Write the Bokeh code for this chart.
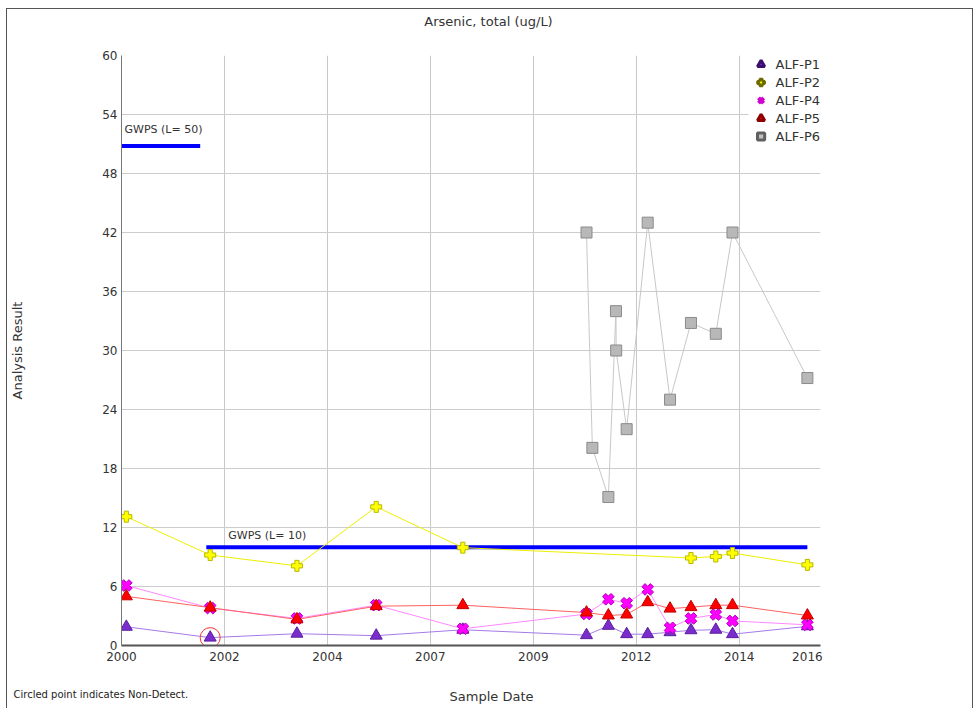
from datetime import datetime
import math
from bokeh.plotting import figure
from bokeh.models import (Range1d, FixedTicker, DatetimeTickFormatter, Label,
                          Legend, LegendItem, ColumnDataSource)
from bokeh.embed import file_html
from bokeh.resources import INLINE
from bokeh.core.properties import value

# ---------------- data ----------------
title = "Arsenic, total (ug/L)"
y_label = "Analysis Result"
x_label = "Sample Date"
note = "Circled point indicates Non-Detect."

p1_dates = ["2000-02-12", "2002-02-10", "2004-03-05", "2006-01-23", "2008-02-15",
            "2011-01-25", "2011-08-03", "2012-01-09", "2012-07-10", "2013-01-20",
            "2013-07-21", "2014-02-22", "2014-07-17", "2016-04-28"]
p1_values = [1.9, 0.8, 1.2, 1.0, 1.6, 1.05, 2.0, 1.15, 1.15, 1.35, 1.55, 1.6, 1.15, 1.95]
p1_nondetect = [False, True, False, False, False, False, False, False, False, False,
                False, False, False, False]

p2_dates = ["2000-02-12", "2002-02-10", "2004-03-05", "2006-01-23", "2008-02-15",
            "2013-07-21", "2014-02-22", "2014-07-17", "2016-04-28"]
p2_values = [13.1, 9.2, 8.1, 14.1, 9.95, 8.9, 9.05, 9.4, 8.2]

p4_dates = ["2000-02-12", "2002-02-10", "2004-03-05", "2006-01-23", "2008-02-15",
            "2011-01-25", "2011-08-03", "2012-01-09", "2012-07-10", "2013-01-20",
            "2013-07-21", "2014-02-22", "2014-07-17", "2016-04-28"]
p4_values = [6.1, 3.8, 2.75, 4.1, 1.7, 3.2, 4.7, 4.3, 5.7, 1.8, 2.75, 3.15, 2.5, 2.1]

p5_dates = ["2000-02-12", "2002-02-10", "2004-03-05", "2006-01-23", "2008-02-15",
            "2011-01-25", "2011-08-03", "2012-01-09", "2012-07-10", "2013-01-20",
            "2013-07-21", "2014-02-22", "2014-07-17", "2016-04-28"]
p5_values = [5.0, 3.85, 2.65, 4.0, 4.1, 3.35, 3.05, 3.15, 4.4, 3.75, 3.9, 4.1, 4.1, 3.05]

p6_dates = ["2011-01-25", "2011-03-17", "2011-08-03", "2011-10-08", "2011-10-10",
            "2012-01-09", "2012-07-10", "2013-01-20", "2013-07-21", "2014-02-22",
            "2014-07-17", "2016-04-28"]
p6_values = [42.0, 20.1, 15.1, 34.0, 30.0, 22.0, 43.0, 25.0, 32.8, 31.7, 42.0, 27.2]

gwps_start = ["2000-01-01", "2002-01-07"]
gwps_end = ["2001-11-15", "2016-04-28"]
gwps_level = [50.8, 10.0]
gwps_text = ["GWPS (L= 50)", "GWPS (L= 10)"]

x_start = "2000-01-01"
x_end = "2016-08-20"
tick_step_years = 2.45
y_min, y_max = 0, 60
y_ticks = [0, 6, 12, 18, 24, 30, 36, 42, 48, 54, 60]

# ---------------- helpers ----------------
def d(s):
    return datetime.strptime(s, "%Y-%m-%d")

EPOCH = datetime(1970, 1, 1)
def ms(dt):
    return (dt - EPOCH).total_seconds() * 1000.0

NAN = float("nan")
FONT = "DejaVu Sans"
TXT = "#333333"

# layout (figure pixels)
W, H = 967, 700
BL, BR, BT, BB = 114, 154, 46, 64
frame_h = H - BT - BB

def y_at(px_from_top):
    """data y for a pixel row of the figure (for texts outside the plot area)"""
    return y_min + (y_max - y_min) * (H - BB - px_from_top) / frame_h

p = figure(width=W, height=H, output_backend="svg", toolbar_location=None,
           x_axis_type="datetime",
           x_range=Range1d(d(x_start), d(x_end)), y_range=Range1d(y_min, y_max),
           min_border_left=BL, min_border_right=BR, min_border_top=BT,
           min_border_bottom=BB)
p.styles = {"margin-left": "6px", "margin-top": "8px",
            "border-left": "1px solid #555", "border-top": "1px solid #555",
            "border-right": "1px solid #555"}
p.outline_line_color = None
p.background_fill_color = "white"

# x ticks: evenly spaced interior ticks + last sample date label
t0 = ms(d(x_start))
step = tick_step_years * 365.25 * 86400000.0
interior = [t0 + k * step for k in range(1, 7)]
all_dates = p1_dates + p2_dates + p4_dates + p5_dates + p6_dates
last = ms(max(d(s) for s in all_dates))
p.xaxis.ticker = FixedTicker(ticks=[t0] + interior + [last])
p.xgrid.ticker = FixedTicker(ticks=interior)
fmt = "%Y"
p.xaxis.formatter = DatetimeTickFormatter(years=fmt, months=fmt, days=fmt, hours=fmt,
                                          minutes=fmt, hourmin=fmt, seconds=fmt,
                                          minsec=fmt, milliseconds=fmt,
                                          microseconds=fmt)
p.yaxis.ticker = FixedTicker(ticks=y_ticks)

for ax in (p.xaxis[0], p.yaxis[0]):
    ax.major_tick_out = 0
    ax.major_tick_in = 0
    ax.minor_tick_out = 0
    ax.minor_tick_in = 0
    ax.major_label_text_font = FONT
    ax.major_label_text_font_size = "12px"
    ax.major_label_text_color = TXT

p.xaxis.axis_line_color = "#555555"
p.xaxis.axis_line_width = 2
p.xaxis.major_label_standoff = 6
p.yaxis.axis_line_color = "#777777"
p.yaxis.axis_line_width = 1
p.yaxis.major_label_standoff = 4
p.yaxis.axis_label = y_label
p.yaxis.axis_label_text_font = FONT
p.yaxis.axis_label_text_font_size = "13px"
p.yaxis.axis_label_text_font_style = "normal"
p.yaxis.axis_label_text_color = TXT
p.yaxis.axis_label_standoff = 74

p.xgrid.grid_line_color = "#c8c8c8"
p.ygrid.grid_line_color = "#cccccc"

# GWPS lines
p.segment(x0=[d(s) for s in gwps_start], x1=[d(s) for s in gwps_end],
          y0=gwps_level, y1=gwps_level, line_color="#0000ff", line_width=4)
p.text(x=[d(s) for s in gwps_start], y=gwps_level, text=gwps_text,
       x_offset=[3, 22], y_offset=[-16, -12], text_font=value(FONT),
       text_font_size="11px", text_baseline="middle", text_color=TXT)

series = [
    ("ALF-P1", p1_dates, p1_values, "#a57ae8", dict(marker="triangle", size=12,
        fill_color="#7b2ccc", line_color="#5a1e9e"),
        dict(marker="triangle", fill_color="#7b2ccc", line_color="#3a0f70", line_width=3)),
    ("ALF-P2", p2_dates, p2_values, "#eeee00", dict(marker="plus", size=11,
        fill_color="#ffff00", line_color="#b8b800"),
        dict(marker="plus", fill_color="#ffff00", line_color="#6a6a00", line_width=2.5)),
    ("ALF-P4", p4_dates, p4_values, "#ff88ff", dict(marker="plus", size=12,
        angle=math.pi / 4, fill_color="#ff00ff", line_color="#b000c0"),
        dict(marker="x", line_color="#d000d0", line_width=4)),
    ("ALF-P5", p5_dates, p5_values, "#ff6060", dict(marker="triangle", size=12,
        fill_color="#ff0000", line_color="#c00000"),
        dict(marker="triangle", fill_color="#ff0000", line_color="#8a0000", line_width=3)),
    ("ALF-P6", p6_dates, p6_values, "#c8c8c8", dict(marker="square", size=11,
        fill_color="#b8b8b8", line_color="#8a8a8a"),
        dict(marker="square", fill_color="#c0c0c0", line_color="#606060", line_width=3)),
]

for name, ds, vs, lc, _, _ in series:
    p.line([d(s) for s in ds], vs, line_color=lc, line_width=1)

items = []
for name, ds, vs, lc, mk, lg in series:
    p.scatter([d(s) for s in ds], vs, line_width=1, **mk)
    # legend-only key glyph (a single missing point, never drawn in the plot)
    proxy = p.scatter(x="x", y="y", source=ColumnDataSource(dict(x=[NAN], y=[NAN])), **lg)
    items.append(LegendItem(label=name, renderers=[proxy]))

# non-detect circles
nd_x = [d(s) for s, f in zip(p1_dates, p1_nondetect) if f]
nd_y = [v for v, f in zip(p1_values, p1_nondetect) if f]
p.scatter(nd_x, nd_y, marker="circle", size=20, fill_color=None,
          line_color="#ff3030", line_width=1)

legend = Legend(items=items, location="top_right", orientation="vertical",
                glyph_width=24, glyph_height=18, label_standoff=3, spacing=0,
                padding=2, margin=0, border_line_color=None,
                background_fill_color="white", background_fill_alpha=1.0,
                label_text_font=FONT, label_text_font_size="13px",
                label_text_color=TXT, label_height=18)
p.add_layout(legend)

# texts outside the plot area (side panels; x relative to plot-area left)
p.add_layout(Label(x=481 - BL, y=y_at(12), x_units="screen", y_units="data",
                   text=title, text_align="center", text_baseline="middle",
                   text_font=FONT, text_font_size="13px", text_color=TXT), "above")
p.add_layout(Label(x=484 - BL, y=y_at(687), x_units="screen", y_units="data",
                   text=x_label, text_align="center", text_baseline="middle",
                   text_font=FONT, text_font_size="13px", text_color=TXT), "below")
p.add_layout(Label(x=6 - BL, y=y_at(685), x_units="screen", y_units="data",
                   text=note, text_align="left", text_baseline="middle",
                   text_font=FONT, text_font_size="10px", text_color="#222222"), "below")

open("out.html", "w").write(file_html(p, INLINE))
